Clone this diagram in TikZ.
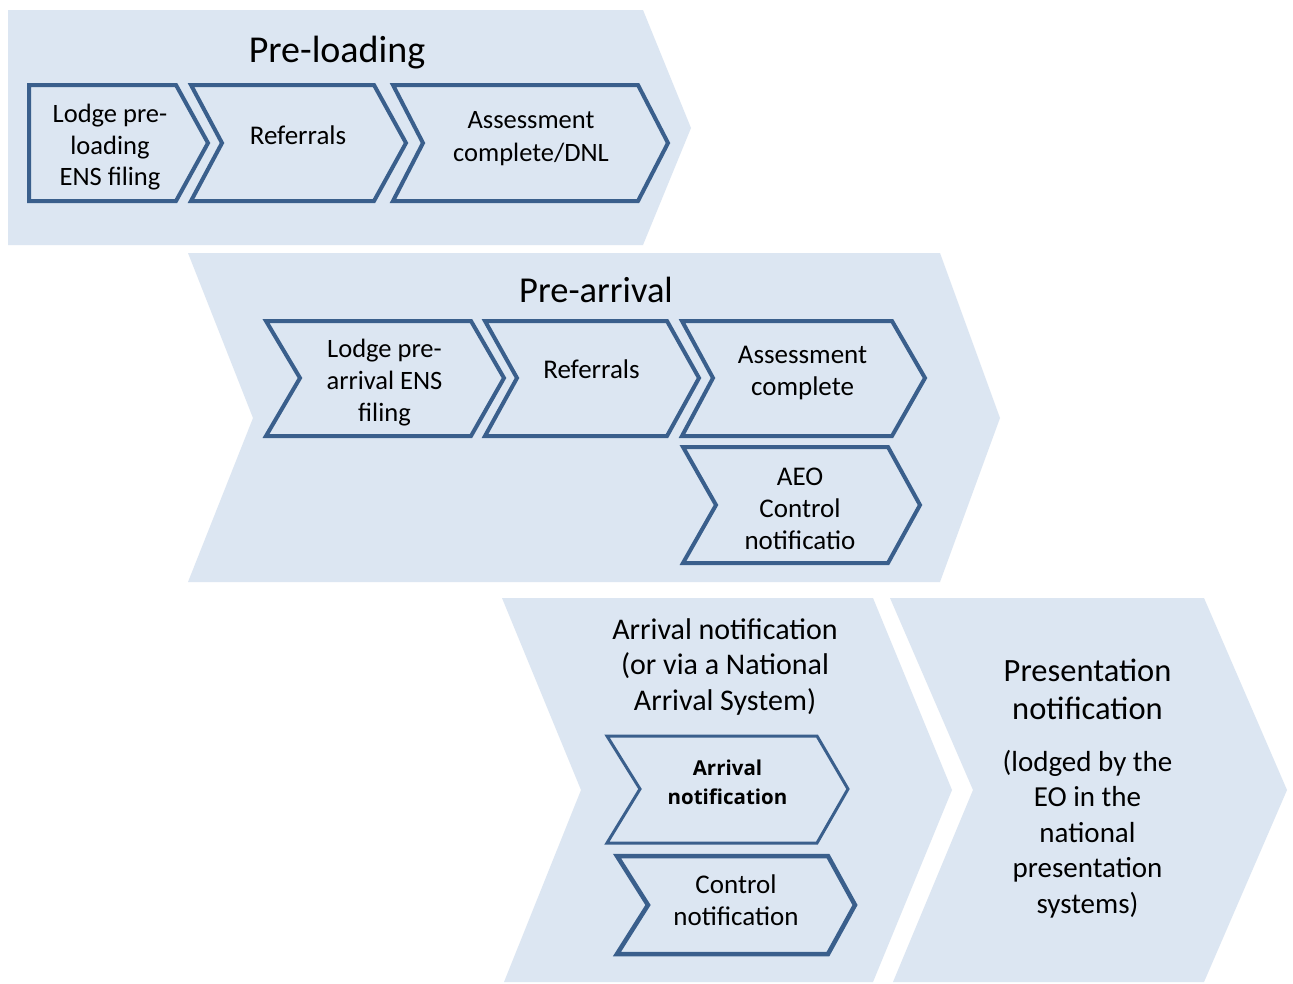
\documentclass[tikz,border=0pt]{standalone}
\usepackage{fontspec}
\setmainfont{Carlito}
\newfontfamily\boldsans{Open Sans}
\definecolor{bandblue}{HTML}{DCE6F2}
\definecolor{edgeblue}{HTML}{3A5F8C}
\begin{document}
\begin{tikzpicture}[x=1pt,y=-1pt,
  band/.style={fill=bandblue,draw=none},
  chev/.style={fill=bandblue,draw=edgeblue,line width=4pt,line join=miter},
  lbl/.style={align=center,inner sep=0pt,outer sep=0pt,anchor=north,text=black},
]
\useasboundingbox (0,0) rectangle (1293,983);
\fill[white] (0,0) rectangle (1293,983);

% ---- background bands
\path[band] (8,10) -- (643,10) -- (691,128) -- (643,245) -- (8,245) -- cycle;
\path[band] (188,253) -- (940,253) -- (1000,418) -- (940,582) -- (188,582) -- (253,418) -- cycle;
\path[band] (502,598) -- (873,598) -- (952,790) -- (873,982) -- (504,982) -- (581,790) -- cycle;
\path[band] (890,598) -- (1204,598) -- (1287,790) -- (1204,982) -- (893,982) -- (973,790) -- cycle;

% ---- pre-loading
\node[lbl,font=\fontsize{38}{45}\selectfont] (tpl) at (337,30.5) {\strut Pre-loading};
\draw[chev] (29,85) -- (176,85) -- (208,143) -- (176,201) -- (29,201) -- cycle;
\draw[chev] (191,85) -- (374,85) -- (406,143) -- (374,201) -- (191,201) -- (222,143) -- cycle;
\draw[chev] (393,85) -- (638,85) -- (668,143) -- (638,201) -- (393,201) -- (423,143) -- cycle;
\begin{scope}
  \clip (29,85) rectangle (190,190);
  \node[lbl,font=\fontsize{26.5}{31.5}\selectfont] (plA) at (110,100.5) {\strut Lodge pre-\\loading\\ENS filing};
\end{scope}
\node[lbl,font=\fontsize{27}{32}\selectfont] (plB) at (298,121.6) {\strut Referrals};
\node[lbl,font=\fontsize{26.5}{33}\selectfont] (plC) at (531,104.9) {\strut Assessment\\complete/DNL};

% ---- pre-arrival
\node[lbl,font=\fontsize{36.5}{44}\selectfont] (tpa) at (596,271.2) {\strut Pre-arrival};
\draw[chev] (266,321) -- (471,321) -- (504,378) -- (471,436) -- (266,436) -- (300,378) -- cycle;
\draw[chev] (485,321) -- (667,321) -- (699,378) -- (667,436) -- (485,436) -- (517,378) -- cycle;
\draw[chev] (682,321) -- (892,321) -- (925,378) -- (892,436) -- (682,436) -- (713,378) -- cycle;
\draw[chev] (683,447) -- (888,447) -- (920,505) -- (888,563) -- (683,563) -- (716,505) -- cycle;
\begin{scope}
  \clip (266,321) rectangle (480,425);
  \node[lbl,font=\fontsize{26.5}{32}\selectfont] (paA) at (384.5,335) {\strut Lodge pre-\\arrival ENS\\filing};
\end{scope}
\node[lbl,font=\fontsize{27}{32}\selectfont] (paB) at (591.5,355.6) {\strut Referrals};
\node[lbl,font=\fontsize{27}{32}\selectfont] (paC) at (802.5,340.6) {\strut Assessment\\complete};
\node[lbl,font=\fontsize{27}{32}\selectfont] (paD) at (800,462.6) {\strut AEO\\Control\\notificatio};

% ---- arrival
\node[lbl,font=\fontsize{30}{35.5}\selectfont] (tar) at (725,614.2) {\strut Arrival notification\\(or via a National\\Arrival System)};
\draw[chev,line width=3pt] (607,736) -- (817,736) -- (848,789) -- (817,843) -- (607,843) -- (640,789) -- cycle;
\draw[chev,line width=4.5pt] (617,856) -- (828,856) -- (855,905) -- (828,954) -- (617,954) -- (648,905) -- cycle;
\node[lbl,font=\boldsans\bfseries\fontsize{20.5}{29}\selectfont] (arA) at (727.5,754.7) {\strut Arrival\\notification};
\node[lbl,font=\fontsize{27}{32}\selectfont] (arB) at (736,871.3) {\strut Control\\notification};

% ---- presentation
\node[lbl,font=\fontsize{32.5}{38}\selectfont] (tpr) at (1087.5,654.4) {\strut Presentation\\notification};
\node[lbl,font=\fontsize{29}{35.5}\selectfont] (prA) at (1087.5,746.2) {\strut (lodged by the\\EO in the\\national\\presentation\\systems)};
\end{tikzpicture}
\end{document}
